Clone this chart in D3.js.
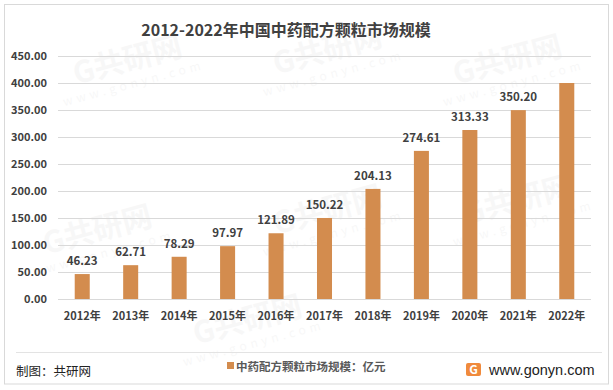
<!DOCTYPE html>
<html><head><meta charset="utf-8">
<script src="https://cdn.jsdelivr.net/npm/d3@7"></script>
<style>body{margin:0;background:#fff}svg{display:block;font-family:"Noto Sans CJK SC","Noto Sans",sans-serif}</style>
</head><body><svg id="c" width="613" height="390"></svg>
<script>
const categories = ["2012年","2013年","2014年","2015年","2016年","2017年","2018年","2019年","2020年","2021年","2022年"];
const values = [46.23,62.71,78.29,97.97,121.89,150.22,204.13,274.61,313.33,350.20,400.5];
const valueLabels = ["46.23","62.71","78.29","97.97","121.89","150.22","204.13","274.61","313.33","350.20",""];
const yTicks = [0,50,100,150,200,250,300,350,400,450];
const title = "2012-2022年中国中药配方颗粒市场规模";
const seriesName = "中药配方颗粒市场规模：亿元";

const svg = d3.select("#c");
svg.append("rect").attr("x",4.5).attr("y",4.5).attr("width",604).attr("height",379.5)
  .attr("fill","#fff").attr("stroke","#d9d9d9");

// faint watermarks
const wm = [[130,70],[330,60],[510,70],[100,240],[330,220],[520,210],[250,330]];
wm.forEach(([x,y])=>{
  const g = svg.append("g").attr("transform",`translate(${x},${y}) rotate(-15)`).attr("opacity",0.028);
  g.append("text").attr("text-anchor","middle").attr("font-size",30).attr("font-weight","bold").attr("fill","#000").text("G共研网");
  g.append("text").attr("text-anchor","middle").attr("y",18).attr("font-size",12).attr("letter-spacing",4).attr("fill","#000").text("www.gonyn.com");
});

const x = d3.scaleBand().domain(categories).range([58,591]).paddingInner(0.69).paddingOuter(0.345);
const y = d3.scaleLinear().domain([0,450]).range([299,56.3]);

// gridlines
svg.append("g").selectAll("line").data(yTicks).join("line")
  .attr("x1",58).attr("x2",591).attr("y1",d=>Math.round(y(d))+0.5).attr("y2",d=>Math.round(y(d))+0.5)
  .attr("stroke","#d9d9d9").attr("stroke-width",1);

// y axis
const ya = svg.append("g").attr("transform","translate(47,0)")
  .call(d3.axisLeft(y).tickValues(yTicks).tickFormat(d=>d3.format(".2f")(d)).tickSize(0).tickPadding(0));
ya.select(".domain").remove();
ya.selectAll("text").attr("font-size",11).attr("font-weight","bold").attr("fill","#404040").attr("font-family","'Noto Sans CJK SC',sans-serif");

// x axis
const xa = svg.append("g").attr("transform","translate(0,310)")
  .call(d3.axisBottom(x).tickSize(0).tickPadding(2));
xa.select(".domain").remove();
xa.selectAll("text").attr("font-size",11).attr("font-weight","bold").attr("fill","#404040").attr("font-family","'Noto Sans CJK SC',sans-serif");

// bars
svg.append("g").selectAll("rect").data(values).join("rect")
  .attr("x",(d,i)=>x(categories[i])).attr("width",x.bandwidth())
  .attr("y",d=>y(d)).attr("height",d=>y(0)-y(d)).attr("fill","#D38C4E");

// labels
svg.append("g").selectAll("text").data(values).join("text")
  .attr("x",(d,i)=>x(categories[i])+x.bandwidth()/2).attr("y",d=>y(d)-9)
  .attr("text-anchor","middle").attr("font-size",11.5).attr("font-weight","bold").attr("fill","#404040")
  .text((d,i)=>valueLabels[i]);

// title
svg.append("text").attr("x",286).attr("y",36).attr("text-anchor","middle")
  .attr("font-size",16).attr("font-weight","bold").attr("fill","#404040").text(title);

// footer
svg.append("line").attr("x1",16).attr("x2",602).attr("y1",352.5).attr("y2",352.5).attr("stroke","#e3e3e3");
svg.append("text").attr("x",16).attr("y",376).attr("font-size",12.5).attr("fill","#222").text("制图：共研网");
svg.append("rect").attr("x",227).attr("y",362).attr("width",7).attr("height",7).attr("fill","#D38C4E");
svg.append("text").attr("x",236).attr("y",371).attr("font-size",11.5).attr("font-weight","bold").attr("fill","#595959").text(seriesName);
// logo
const lg = svg.append("g").attr("transform","translate(466,363)");
lg.append("rect").attr("width",15).attr("height",13).attr("rx",2).attr("fill","#F08A3C");
lg.append("text").attr("x",7.5).attr("y",11).attr("text-anchor","middle").attr("font-size",12).attr("font-weight","bold").attr("fill","#fff").text("G");
svg.append("text").attr("x",489).attr("y",375).attr("font-size",14.5).attr("fill","#222").attr("font-family","'Liberation Sans',Arial,sans-serif").text("www.gonyn.com");
</script></body></html>
